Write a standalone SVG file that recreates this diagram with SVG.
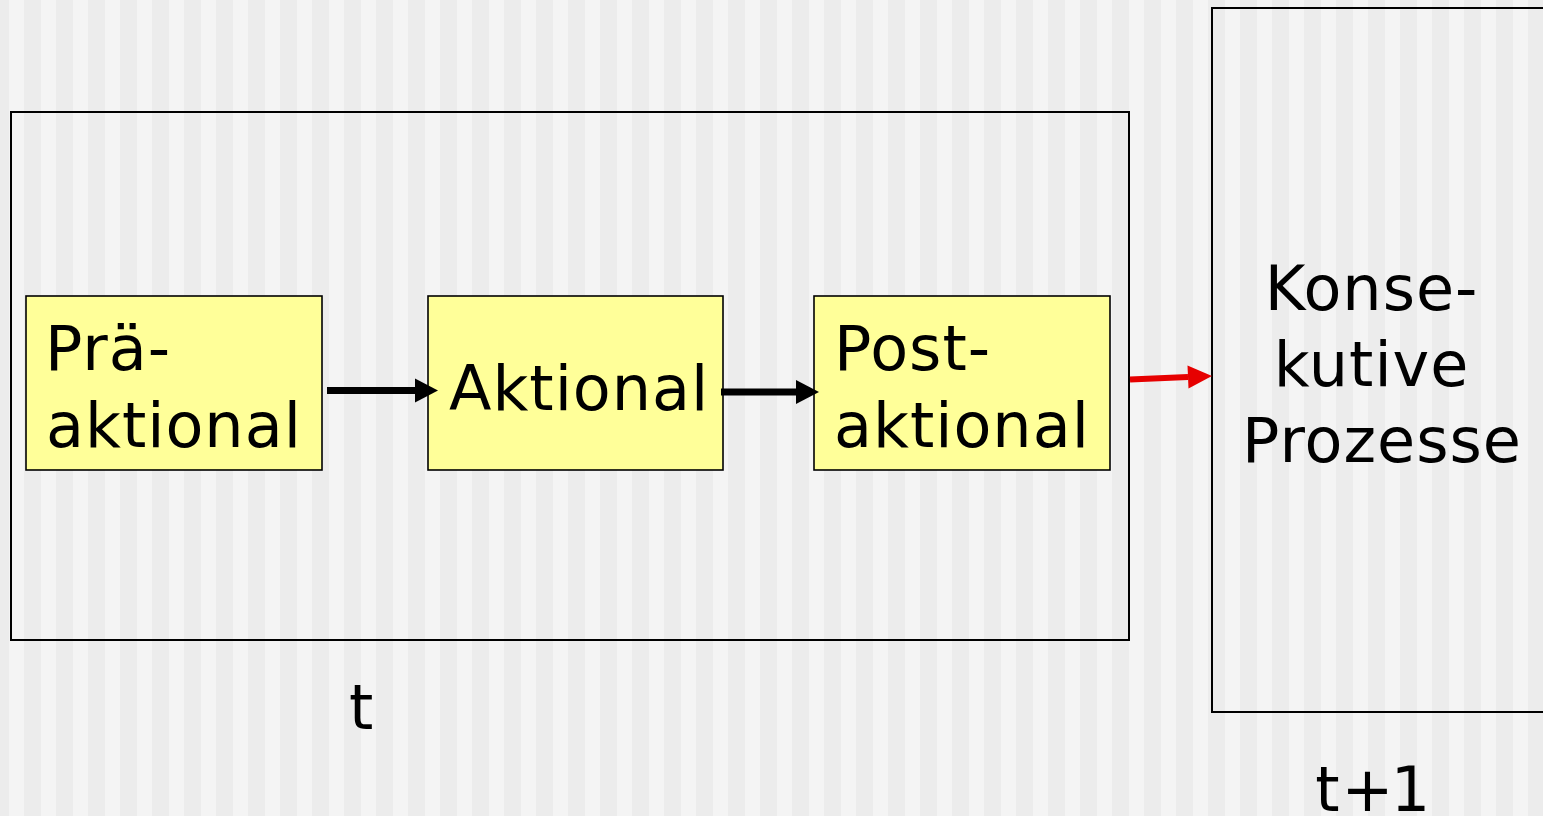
<svg xmlns="http://www.w3.org/2000/svg" width="1543" height="816" viewBox="0 0 1543 816">
  <style>
    .frame { fill: none; stroke: #000; stroke-width: 2; }
    .phase { fill: #ffff99; stroke: #000; stroke-width: 1.6; }
    .label { font-family: "DejaVu Sans", Verdana, sans-serif; font-size: 62px; letter-spacing: 1px; fill: #000; }
    .flow { stroke: #000; stroke-width: 7; fill: none; }
    .next { stroke: #e60000; stroke-width: 6; fill: none; }
  </style>
  <defs>
    <pattern id="stripes" patternUnits="userSpaceOnUse" x="0" y="0" width="32" height="816">
      <rect width="32" height="816" fill="#ececec"/>
      <rect x="9" y="0" width="15" height="816" fill="#f4f4f4"/>
    </pattern>
    <marker id="head-black" markerUnits="userSpaceOnUse" markerWidth="24" markerHeight="24" refX="0" refY="12" orient="auto" overflow="visible">
      <path d="M0,0 L23,12 L0,24 Z" fill="#000"/>
    </marker>
    <marker id="head-red" markerUnits="userSpaceOnUse" markerWidth="24" markerHeight="24" refX="0" refY="11.5" orient="auto" overflow="visible">
      <path d="M0,0 L24,11.5 L0,23 Z" fill="#e60000"/>
    </marker>
  </defs>

  <!-- striped backdrop -->
  <rect width="1543" height="816" fill="url(#stripes)"/>

  <!-- time frame t -->
  <g id="frame-t">
    <rect class="frame" x="11" y="112" width="1118" height="528"/>
    <text class="label" x="349" y="729">t</text>
  </g>

  <!-- time frame t+1 -->
  <g id="frame-t1">
    <rect class="frame" x="1212" y="8" width="340" height="704"/>
    <text class="label" text-anchor="middle">
      <tspan x="1382" y="310">Konse-</tspan>
      <tspan x="1382" y="386">kutive</tspan>
      <tspan x="1382" y="462">Prozesse</tspan>
    </text>
    <text class="label" y="811" text-anchor="middle"><tspan x="1328">t</tspan><tspan x="1368">+</tspan><tspan x="1411">1</tspan></text>
  </g>

  <g id="praeaktional">
    <rect class="phase" x="26" y="296" width="296" height="174"/>
    <text class="label">
      <tspan x="45" y="370">Prä-</tspan>
      <tspan x="46" y="447">aktional</tspan>
    </text>
  </g>

  <g id="aktional">
    <rect class="phase" x="428" y="296" width="295" height="174"/>
    <text class="label" x="449" y="410">Aktional</text>
  </g>

  <g id="postaktional">
    <rect class="phase" x="814" y="296" width="296" height="174"/>
    <text class="label">
      <tspan x="834" y="370">Post-</tspan>
      <tspan x="834" y="447">aktional</tspan>
    </text>
  </g>

  <g id="connectors">
    <line class="flow" x1="327" y1="390.5" x2="415" y2="390.5" marker-end="url(#head-black)"/>
    <line class="flow" x1="721" y1="392" x2="796" y2="392" marker-end="url(#head-black)"/>
    <line class="next" x1="1130" y1="379.5" x2="1188" y2="377" marker-end="url(#head-red)"/>
  </g>
</svg>
